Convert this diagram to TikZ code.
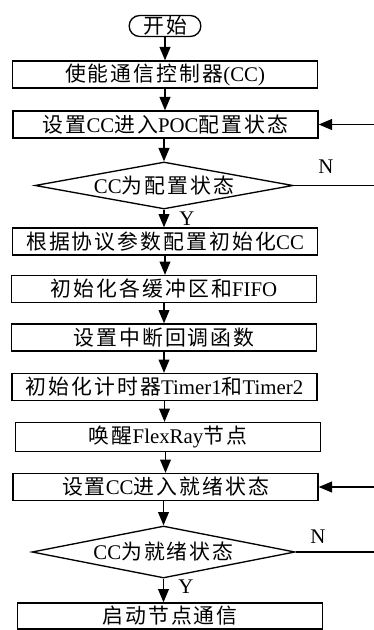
\documentclass[tikz,border=0pt]{standalone}
\usepackage{fontspec}
\setmainfont{Liberation Serif}
\newfontfamily\cjk[LetterSpace=10]{Noto Sans CJK SC}
\newcommand{\zh}[1]{{\cjk #1}}
\usetikzlibrary{arrows.meta,shapes.geometric}

\begin{document}
\begin{tikzpicture}[x=0.6pt,y=-0.6pt,
    font=\fontsize{12.5}{15}\selectfont,
    line width=0.8pt,
    >={Triangle[length=8pt,width=6.5pt]},
    stepbox/.style={draw,minimum width=183pt,minimum height=16.2pt,inner sep=0pt},
    test/.style={draw,shape=diamond,aspect=5.5,inner sep=0pt}]
  \useasboundingbox (0,0) rectangle (374,630);
  % main column
  \node [draw,rounded corners=6.3pt,minimum width=43pt,minimum height=12.6pt,inner sep=0pt] (start) at (165,26) {\zh{开始}};
  \node [stepbox] (enable) at (165,74.5) {\zh{使能通信控制器}(CC)};
  \node [stepbox] (poc) at (165.5,124.5) {\zh{设置}CC\zh{进入}POC\zh{配置状态}};
  \node [test,minimum width=154.8pt,minimum height=28.2pt] (isconf) at (164,185.5) {CC\zh{为配置状态}};
  \node [stepbox] (param) at (165,241.5) {\zh{根据协议参数配置初始化}CC};
  \node [stepbox] (buffer) at (164,289) {\zh{初始化各缓冲区和}FIFO};
  \node [stepbox] (irq) at (164,337.5) {\zh{设置中断回调函数}};
  \node [stepbox] (timer) at (164.5,387) {\zh{初始化计时器}Timer1\zh{和}Timer2};
  \node [stepbox,minimum height=17.4pt] (wake) at (168,437) {\zh{唤醒}FlexRay\zh{节点}};
  \node [stepbox] (ready) at (165.5,487) {\zh{设置}CC\zh{进入就绪状态}};
  \node [test,minimum width=157.8pt,minimum height=31.2pt] (isready) at (163.5,552) {CC\zh{为就绪状态}};
  \node [stepbox,minimum height=15.6pt] (comm) at (170,616) {\zh{启动节点通信}};
  % labels
  \node (y1) at (187,219) {Y};
  \node (n1) at (326,167) {N};
  \node (y2) at (186,587) {Y};
  \node (n2) at (318,537) {N};
  % loose ends at the right margin
  \coordinate (out1) at (374,185.5);
  \coordinate (back1) at (374,124.5);
  \coordinate (out2) at (374,552);
  \coordinate (back2) at (374,487);
  % arrows
  \draw [->] (start) -- (start |- enable.north);
  \draw [->] (enable) -- (enable |- poc.north);
  \draw [->] (poc.south -| isconf) -- (isconf.north);
  \draw [->] (isconf.south) -- (isconf.south |- param.north);
  \draw [->] (param) -- (param |- buffer.north);
  \draw [->] (buffer) -- (buffer |- irq.north);
  \draw [->] (irq) -- (irq |- timer.north);
  \draw [->] (timer) -- (timer |- wake.north);
  \draw [->] (wake.south -| ready) -- (ready.north);
  \draw [->] (ready.south -| isready) -- (isready.north);
  \draw [->] (isready.south) -- (isready.south |- comm.north);
  \draw (isconf.east) -- (out1);
  \draw [->] (back1) -- (poc.east);
  \draw (isready.east) -- (out2);
  \draw [->] (back2) -- (ready.east);
\end{tikzpicture}
\end{document}
